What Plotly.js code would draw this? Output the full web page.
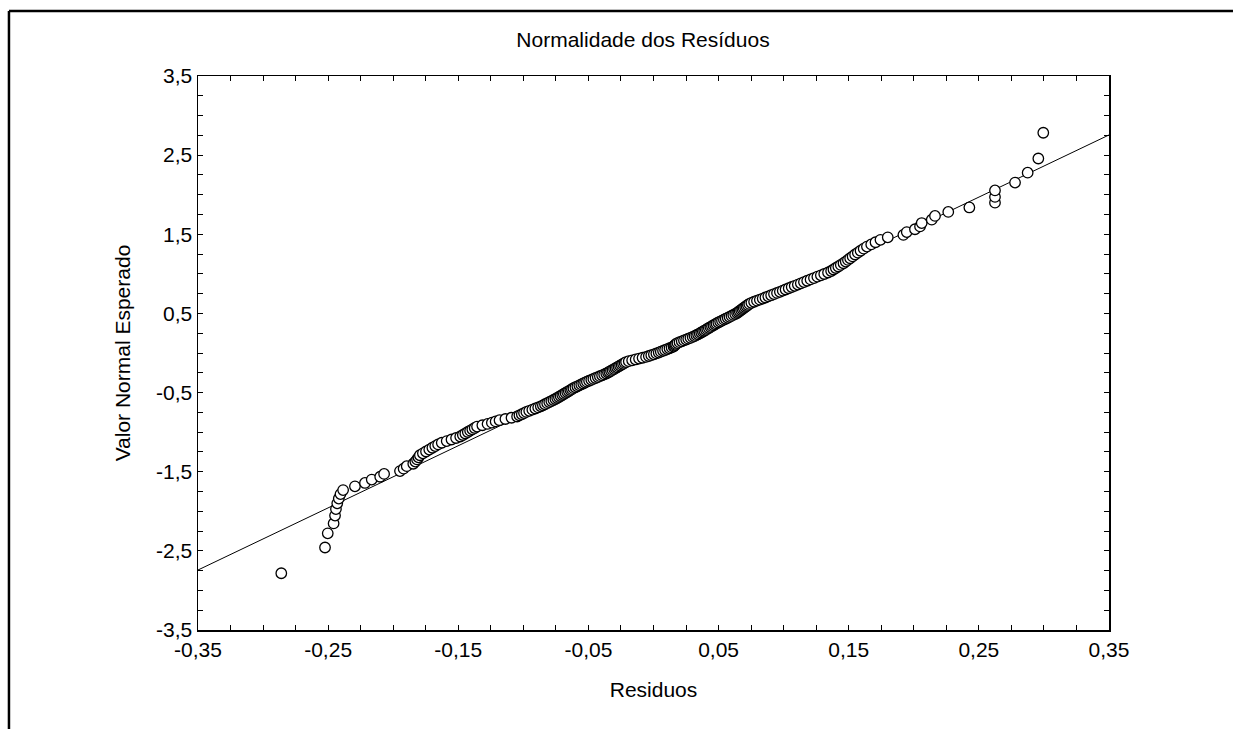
<!DOCTYPE html>
<html>
<head>
<meta charset="utf-8">
<script src="https://cdn.plot.ly/plotly-3.0.1.min.js"></script>
<style>
  html, body { margin: 0; padding: 0; background: #ffffff; }
  #chart { width: 1238px; height: 729px; }
</style>
</head>
<body>
<div id="chart"></div>
<script>
// Residuals (x)
const residuos = [
  -0.2860,-0.2524,-0.2503,-0.2458,-0.2447,-0.2440,-0.2430,-0.2418,-0.2405,-0.2385,
  -0.2294,-0.2217,-0.2165,-0.2100,-0.2070,-0.1948,-0.1920,-0.1896,-0.1846,-0.1830,
  -0.1817,-0.1806,-0.1795,-0.1772,-0.1748,-0.1723,-0.1699,-0.1677,-0.1655,-0.1627,
  -0.1589,-0.1552,-0.1517,-0.1485,-0.1465,-0.1446,-0.1427,-0.1409,-0.1392,-0.1374,
  -0.1356,-0.1315,-0.1275,-0.1242,-0.1213,-0.1183,-0.1138,-0.1091,-0.1048,-0.1030,
  -0.1012,-0.0995,-0.0977,-0.0955,-0.0931,-0.0908,-0.0886,-0.0866,-0.0850,-0.0834,
  -0.0817,-0.0801,-0.0785,-0.0769,-0.0754,-0.0740,-0.0727,-0.0714,-0.0701,-0.0689,
  -0.0676,-0.0663,-0.0651,-0.0639,-0.0627,-0.0615,-0.0600,-0.0585,-0.0570,-0.0555,
  -0.0540,-0.0526,-0.0512,-0.0495,-0.0478,-0.0462,-0.0445,-0.0428,-0.0412,-0.0395,
  -0.0379,-0.0363,-0.0350,-0.0339,-0.0327,-0.0315,-0.0303,-0.0291,-0.0280,-0.0268,
  -0.0257,-0.0245,-0.0234,-0.0222,-0.0211,-0.0190,-0.0164,-0.0137,-0.0111,-0.0084,
  -0.0057,-0.0036,-0.0017,0.0003,0.0022,
  0.0040,0.0056,0.0073,0.0089,0.0106,0.0123,0.0139,0.0154,0.0160,0.0167,
  0.0173,0.0184,0.0200,0.0217,0.0234,0.0251,0.0267,0.0284,0.0301,0.0315,
  0.0329,0.0342,0.0355,0.0367,0.0379,0.0390,0.0402,0.0413,0.0425,0.0437,
  0.0449,0.0461,0.0473,0.0484,0.0498,0.0512,0.0526,0.0541,0.0555,0.0570,
  0.0584,0.0599,0.0613,0.0628,0.0642,0.0652,0.0662,0.0673,0.0683,0.0693,
  0.0704,0.0714,0.0725,0.0736,0.0752,0.0773,0.0795,0.0817,0.0839,0.0860,
  0.0882,0.0904,0.0926,0.0949,0.0971,0.0993,0.1015,0.1039,0.1062,0.1085,
  0.1109,0.1132,0.1156,0.1181,0.1207,0.1233,0.1259,0.1286,0.1312,0.1341,
  0.1365,0.1383,0.1401,0.1420,0.1439,0.1460,0.1477,0.1494,0.1511,0.1530,
  0.1549,0.1570,0.1591,0.1615,0.1640,0.1673,0.1706,0.1744,0.1800,0.1920,
  0.1946,0.2009,0.2048,0.2061,0.2138,0.2163,0.2265,0.2427,0.2624,0.2624,
  0.2624,0.2778,0.2875,0.2957,0.2995
];

// Expected normal values (y)
const valorNormal = [
  -2.7829,-2.4574,-2.2786,-2.1534,-2.0544,-1.9719,-1.8993,-1.8390,-1.7823,-1.7320,
  -1.6846,-1.6421,-1.5997,-1.5636,-1.5274,-1.4925,-1.4613,-1.4302,-1.3992,-1.3721,
  -1.3450,-1.3180,-1.2920,-1.2682,-1.2445,-1.2207,-1.1973,-1.1762,-1.1551,-1.1340,
  -1.1129,-1.0927,-1.0738,-1.0549,-1.0360,-1.0171,-0.9984,-0.9813,-0.9642,-0.9471,
  -0.9300,-0.9129,-0.8962,-0.8805,-0.8649,-0.8493,-0.8337,-0.8181,-0.8024,-0.7878,
  -0.7734,-0.7590,-0.7445,-0.7301,-0.7157,-0.7012,-0.6877,-0.6743,-0.6608,-0.6474,
  -0.6339,-0.6205,-0.6070,-0.5939,-0.5813,-0.5686,-0.5559,-0.5433,-0.5306,-0.5179,
  -0.5053,-0.4930,-0.4809,-0.4689,-0.4568,-0.4448,-0.4327,-0.4207,-0.4086,-0.3967,
  -0.3851,-0.3735,-0.3620,-0.3504,-0.3388,-0.3272,-0.3156,-0.3041,-0.2927,-0.2815,
  -0.2703,-0.2590,-0.2478,-0.2365,-0.2253,-0.2140,-0.2028,-0.1917,-0.1807,-0.1697,
  -0.1587,-0.1477,-0.1367,-0.1257,-0.1146,-0.1036,-0.0927,-0.0818,-0.0709,-0.0600,
  -0.0491,-0.0382,-0.0273,-0.0164,-0.0055,
  0.0055,0.0164,0.0273,0.0382,0.0491,0.0600,0.0709,0.0818,0.0927,0.1036,
  0.1146,0.1257,0.1367,0.1477,0.1587,0.1697,0.1807,0.1917,0.2028,0.2140,
  0.2253,0.2365,0.2478,0.2590,0.2703,0.2815,0.2927,0.3041,0.3156,0.3272,
  0.3388,0.3504,0.3620,0.3735,0.3851,0.3967,0.4086,0.4207,0.4327,0.4448,
  0.4568,0.4689,0.4809,0.4930,0.5053,0.5179,0.5306,0.5433,0.5559,0.5686,
  0.5813,0.5939,0.6070,0.6205,0.6339,0.6474,0.6608,0.6743,0.6877,0.7012,
  0.7157,0.7301,0.7445,0.7590,0.7734,0.7878,0.8024,0.8181,0.8337,0.8493,
  0.8649,0.8805,0.8962,0.9129,0.9300,0.9471,0.9642,0.9813,0.9984,1.0171,
  1.0360,1.0549,1.0738,1.0927,1.1129,1.1340,1.1551,1.1762,1.1973,1.2207,
  1.2445,1.2682,1.2920,1.3180,1.3450,1.3721,1.3992,1.4302,1.4613,1.4925,
  1.5274,1.5636,1.5997,1.6421,1.6846,1.7320,1.7823,1.8390,1.8993,1.9719,
  2.0544,2.1534,2.2786,2.4574,2.7829
];

// Reference (fitted) line end values
const retaX = [-0.35, 0.35];
const retaY = [-2.742, 2.755];

// Tick labels
const xTickVals = [-0.35, -0.25, -0.15, -0.05, 0.05, 0.15, 0.25, 0.35];
const xTickText = ['-0,35', '-0,25', '-0,15', '-0,05', '0,05', '0,15', '0,25', '0,35'];
const yTickVals = [-3.5, -2.5, -1.5, -0.5, 0.5, 1.5, 2.5, 3.5];
const yTickText = ['-3,5', '-2,5', '-1,5', '-0,5', '0,5', '1,5', '2,5', '3,5'];

const FONT = '"Liberation Sans", Arial, Helvetica, sans-serif';
const FS = 21;

const traces = [
  {
    x: retaX, y: retaY, type: 'scatter', mode: 'lines',
    line: { color: '#000000', width: 1 }, hoverinfo: 'skip', showlegend: false
  },
  {
    x: residuos, y: valorNormal, type: 'scatter', mode: 'markers',
    marker: { symbol: 'circle', size: 10.5, color: '#ffffff', line: { color: '#000000', width: 1.3 } },
    showlegend: false
  }
];

const axisCommon = {
  showgrid: false, zeroline: false,
  showline: true, linecolor: '#000000', linewidth: 1.5, mirror: 'ticks',
  ticks: 'inside', ticklen: 5, tickwidth: 1, tickcolor: '#000000',
  tickfont: { family: FONT, size: FS, color: '#000000' },
  tickmode: 'array'
};

const layout = {
  width: 1238, height: 729,
  paper_bgcolor: '#ffffff', plot_bgcolor: '#ffffff',
  margin: { l: 198, r: 129, t: 76, b: 99 },
  font: { family: FONT, color: '#000000' },
  showlegend: false,
  title: {
    text: 'Normalidade dos Resíduos',
    font: { family: FONT, size: FS, color: '#000000' },
    xref: 'paper', x: 0.4885, xanchor: 'center',
    yref: 'container', y: 0.945, yanchor: 'middle'
  },
  xaxis: Object.assign({}, axisCommon, {
    range: [-0.35, 0.35],
    tickvals: xTickVals, ticktext: xTickText,
    minor: { tickmode: 'linear', tick0: -0.35, dtick: 0.025, ticks: 'inside', ticklen: 5, tickcolor: '#000000', tickwidth: 1, showgrid: false },
    title: { text: 'Residuos', font: { family: FONT, size: FS, color: '#000000' }, standoff: 22 }
  }),
  yaxis: Object.assign({}, axisCommon, {
    range: [-3.5, 3.5],
    tickvals: yTickVals, ticktext: yTickText,
    minor: { tickmode: 'linear', tick0: -3.5, dtick: 0.25, ticks: 'inside', ticklen: 5, tickcolor: '#000000', tickwidth: 1, showgrid: false },
    title: { text: 'Valor Normal Esperado', font: { family: FONT, size: FS, color: '#000000' }, standoff: 20 }
  }),
  shapes: [
    { type: 'line', xref: 'paper', yref: 'paper', x0: -0.2075, x1: 1.1361, y0: 1.1173, y1: 1.1173, line: { color: '#000000', width: 2.5 } },
    { type: 'line', xref: 'paper', yref: 'paper', x0: -0.2075, x1: -0.2075, y0: 1.1173, y1: -0.2, line: { color: '#000000', width: 2.5 } }
  ]
};

Plotly.newPlot('chart', traces, layout, { displayModeBar: false, staticPlot: true });
</script>
</body>
</html>
